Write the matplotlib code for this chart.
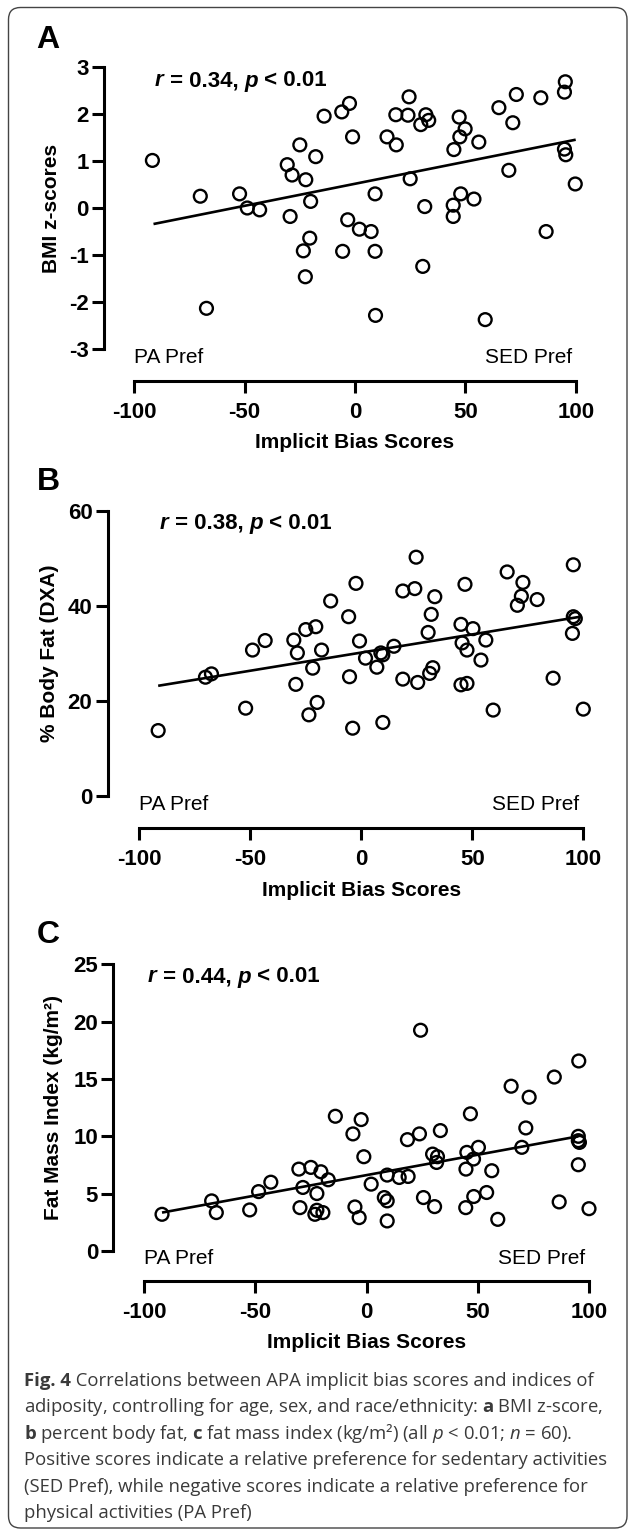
import matplotlib
matplotlib.use("Agg")
import matplotlib.pyplot as plt
from matplotlib.patches import FancyBboxPatch

plt.rcParams['font.family'] = ['Liberation Sans', 'DejaVu Sans']
plt.rcParams['axes.unicode_minus'] = False
plt.rcParams['mathtext.fontset'] = 'custom'
plt.rcParams['mathtext.rm'] = 'Open Sans'
plt.rcParams['mathtext.it'] = 'Open Sans:italic'
plt.rcParams['mathtext.bf'] = 'Open Sans:bold'

# ---- data ----
# panel A: BMI z-scores
bias_a = [-91.8, -70.1, -52.3, -48.8, -43.2, -30.7, -28.5, -25.0, -22.3, -17.8,
          -20.1, -29.4, -14.0, -6.0, -2.5, -1.1, 9.1, 14.5, 18.7, 18.5,
          24.0, 24.5, 25.0, 29.8, 32.1, 33.4, 31.6, 44.5, 44.5, 44.8,
          47.2, 47.5, 49.9, 47.9, 53.9, 56.1, 65.2, 69.7, 71.5, 73.1,
          84.2, 86.6, 95.3, 94.9, 94.9, 95.5, 99.8, -3.3, 2.0, 7.3,
          -20.5, -23.4, -5.6, 9.1, -22.5, 30.7, -67.3, 9.3, 59.0]
bmi_z = [1.01, 0.25, 0.30, 0.00, -0.04, 0.92, 0.70, 1.34, 0.60, 1.09,
         0.14, -0.18, 1.95, 2.04, 2.22, 1.51, 0.30, 1.51, 1.34, 1.98,
         1.97, 2.36, 0.62, 1.77, 1.98, 1.86, 0.03, 0.06, -0.18, 1.24,
         1.93, 1.51, 1.68, 0.30, 0.19, 1.40, 2.13, 0.80, 1.81, 2.41,
         2.34, -0.50, 2.68, 2.46, 1.25, 1.13, 0.51, -0.25, -0.45, -0.50,
         -0.64, -0.91, -0.92, -0.92, -1.46, -1.24, -2.13, -2.28, -2.37]
fit_a_x = [-91.3, 100.0]
fit_a_y = [-0.34, 1.45]
r_a = '0.34'

# panel B: % body fat (DXA)
bias_b = [-70.2, -67.5, -52.1, -49.0, -43.3, -30.4, -28.8, -29.5, -25.0, -20.5,
          -21.9, -17.9, -19.9, -23.6, -13.8, -5.7, -5.3, -2.4, -0.8, 1.9,
          7.0, 8.8, 9.7, 14.7, 18.7, 24.1, 24.7, 18.7, 25.4, 30.1,
          31.5, 33.1, 30.8, 32.2, 44.9, 45.4, 46.7, 47.6, 50.3, 44.9,
          47.6, 53.9, 56.1, 59.4, 65.7, 70.3, 72.1, 72.8, 79.2, 86.4,
          95.5, 95.5, 96.4, 95.1, 100.0, -91.5, -3.9, 9.7]
body_fat = [25.0, 25.7, 18.5, 30.7, 32.7, 32.8, 30.1, 23.5, 35.0, 35.6,
            26.9, 30.7, 19.7, 17.1, 41.0, 37.7, 25.1, 44.7, 32.6, 29.0,
            27.1, 30.1, 29.7, 31.5, 43.1, 43.6, 50.2, 24.6, 23.9, 34.4,
            38.2, 41.9, 25.8, 27.0, 36.1, 32.2, 44.5, 30.7, 35.2, 23.4,
            23.7, 28.6, 32.8, 18.1, 47.1, 40.1, 42.0, 44.9, 41.3, 24.8,
            48.6, 37.7, 37.3, 34.2, 18.3, 13.8, 14.3, 15.5]
fit_b_x = [-91.5, 98.7]
fit_b_y = [23.2, 37.7]
r_b = '0.38'

# panel C: fat mass index
bias_c = [24.3, 95.4, 84.4, 65.0, 73.1, 46.7, -14.0, -2.4, -6.1, 23.8,
          33.2, 18.4, 71.6, 95.2, 95.2, 95.7, 69.8, 50.3, 45.1, 48.1,
          29.7, 31.9, 31.5, -1.2, 95.2, 44.7, 56.3, -30.4, -25.0, -20.5,
          -17.2, 9.3, 14.7, 18.7, 2.1, -43.0, -91.9, -69.6, -67.5, -52.5,
          -48.5, -29.9, -28.6, -22.3, -22.3, -23.2, -19.6, -5.2, -3.3, 8.0,
          9.3, 9.3, 25.6, 30.6, 44.6, 48.2, 54.0, 59.0, 86.6, 100.0]
fmi = [19.25, 16.57, 15.17, 14.37, 13.41, 11.96, 11.75, 11.46, 10.21, 10.21,
       10.50, 9.71, 10.73, 10.00, 9.62, 9.47, 9.04, 9.04, 8.60, 8.02,
       8.45, 8.22, 7.72, 8.22, 7.52, 7.14, 7.00, 7.14, 7.29, 6.91,
       6.21, 6.62, 6.41, 6.50, 5.83, 6.00, 3.20, 4.37, 3.35, 3.58,
       5.18, 3.78, 5.54, 5.01, 3.55, 3.20, 3.35, 3.84, 2.91, 4.66,
       4.37, 2.62, 4.66, 3.87, 3.78, 4.75, 5.10, 2.76, 4.28, 3.69]
fit_c_x = [-91.9, 95.2]
fit_c_y = [3.35, 10.0]
r_c = '0.44'

x_ticks = [-100, -50, 0, 50, 100]

W, H = 629, 1531
fig = plt.figure(figsize=(W / 100, H / 100), dpi=100)


def fx(px):
    return px / W


def fy(py):
    return 1 - py / H


# layout in pixels: y-axis x, x=-100 px, x=100 px, top px, bottom px, x-axis line px
panels = [
    dict(x=bias_a, y=bmi_z, fx_=fit_a_x, fy_=fit_a_y, ylim=(-3, 3), yticks=[-3, -2, -1, 0, 1, 2, 3],
         ylabel='BMI z-scores', letter='A', r=r_a,
         axx=104, xm=134.3, xp=575.7, top=66.7, bot=349.3, xline=381, let=(48, 40), st=(155, 81), ylx=52),
    dict(x=bias_b, y=body_fat, fx_=fit_b_x, fy_=fit_b_y, ylim=(0, 60), yticks=[0, 20, 40, 60],
         ylabel='% Body Fat (DXA)', letter='B', r=r_b,
         axx=107.7, xm=139.3, xp=583.3, top=510.5, bot=796.3, xline=828, let=(48, 482), st=(160, 523), ylx=50),
    dict(x=bias_c, y=fmi, fx_=fit_c_x, fy_=fit_c_y, ylim=(0, 25), yticks=[0, 5, 10, 15, 20, 25],
         ylabel='Fat Mass Index (kg/m²)', letter='C', r=r_c,
         axx=113.3, xm=144, xp=589, top=964.3, bot=1251, xline=1280.7, let=(48, 935), st=(148, 977), ylx=54),
]

stat_size = 16

for p in panels:
    k = (p['xp'] - p['xm']) / 200.0
    right_px = p['xp'] + 14
    ax = fig.add_axes([fx(p['axx']), fy(p['bot']), (right_px - p['axx']) / W, (p['bot'] - p['top']) / H])
    ax.set_xlim(-100 - (p['xm'] - p['axx']) / k, 100 + (right_px - p['xp']) / k)
    ax.set_ylim(*p['ylim'])
    ax.plot(p['fx_'], p['fy_'], color='black', lw=1.9, zorder=2, solid_capstyle='butt')
    ax.scatter(p['x'], p['y'], s=85, facecolors='none', edgecolors='black',
               linewidths=1.7, clip_on=False, zorder=3)
    ax.patch.set_visible(False)
    for s in ['top', 'right']:
        ax.spines[s].set_visible(False)
    for s in ['left', 'bottom']:
        ax.spines[s].set_linewidth(2.2)
        ax.spines[s].set_capstyle('projecting')
    ax.spines['bottom'].set_position(('outward', (p['xline'] - p['bot']) * 0.72))
    ax.spines['bottom'].set_bounds(-100, 100)
    ax.set_xticks(x_ticks)
    ax.set_yticks(p['yticks'])
    ax.tick_params(axis='both', direction='out', length=8.5, width=2.2, labelsize=16)
    ax.tick_params(axis='x', pad=6.5)
    ax.tick_params(axis='y', pad=2.5)
    for lab in ax.get_xticklabels() + ax.get_yticklabels():
        lab.set_fontweight('bold')

    fig.text(fx((p['xm'] + p['xp']) / 2), fy(p['xline'] + 62), 'Implicit Bias Scores',
             ha='center', va='center', fontsize=15, fontweight='bold')
    fig.text(fx(p['xm']), fy(p['bot'] + 8), 'PA Pref', ha='left', va='center', fontsize=15)
    fig.text(fx(p['xp'] - 4), fy(p['bot'] + 8), 'SED Pref', ha='right', va='center', fontsize=15)
    fig.text(fx(p['ylx']), fy((p['top'] + p['bot']) / 2), p['ylabel'], rotation=90,
             ha='center', va='center', fontsize=15, fontweight='bold')
    fig.text(fx(p['let'][0]), fy(p['let'][1]), p['letter'], ha='center', va='center',
             fontsize=23, fontweight='bold')

    # "r = 0.xx, p < 0.01" built from pieces so r and p can be bold italic
    pieces = [('r', 'italic'), (' = ' + p['r'] + ', ', 'normal'), ('p', 'italic'), (' < 0.01', 'normal')]
    prev = fig.text(fx(p['st'][0]), fy(p['st'][1]), pieces[0][0], ha='left', va='center',
                    fontsize=stat_size, fontweight='bold', fontstyle=pieces[0][1])
    for txt, style in pieces[1:]:
        prev = ax.annotate(txt, xy=(1, 0), xycoords=prev, ha='left', va='bottom',
                           fontsize=stat_size, fontweight='bold', fontstyle=style,
                           annotation_clip=False)

cap_font = dict(fontsize=13.3, color='#3a3a3a', family=['Open Sans', 'DejaVu Sans'])
caption = [
    'Correlations between APA implicit bias scores and indices of',
    r'adiposity, controlling for age, sex, and race/ethnicity: $\mathbf{a}$ BMI z-score,',
    r'$\mathbf{b}$ percent body fat, $\mathbf{c}$ fat mass index (kg/m²) (all $\mathit{p}$ < 0.01; $\mathit{n}$ = 60).',
    'Positive scores indicate a relative preference for sedentary activities',
    '(SED Pref), while negative scores indicate a relative preference for',
    'physical activities (PA Pref)',
]
head = fig.text(fx(24), fy(1380.5), 'Fig. 4', ha='left', va='center', fontweight='bold', **cap_font)
ax.annotate(' ' + caption[0], xy=(1, 0), xycoords=head, ha='left', va='bottom',
            annotation_clip=False, **cap_font)
for i, line in enumerate(caption[1:], start=1):
    fig.text(fx(24), fy(1380.5 + i * 26.6), line, ha='left', va='center', **cap_font)

frame = FancyBboxPatch((0.085, (H - 1528) / 100), (627 - 8.5) / 100, (1528 - 7.5) / 100,
                       boxstyle='round,pad=0,rounding_size=0.12', transform=fig.dpi_scale_trans,
                       fill=False, edgecolor='#444444', lw=1.0)
fig.add_artist(frame)

fig.savefig('out.png', dpi=100)
